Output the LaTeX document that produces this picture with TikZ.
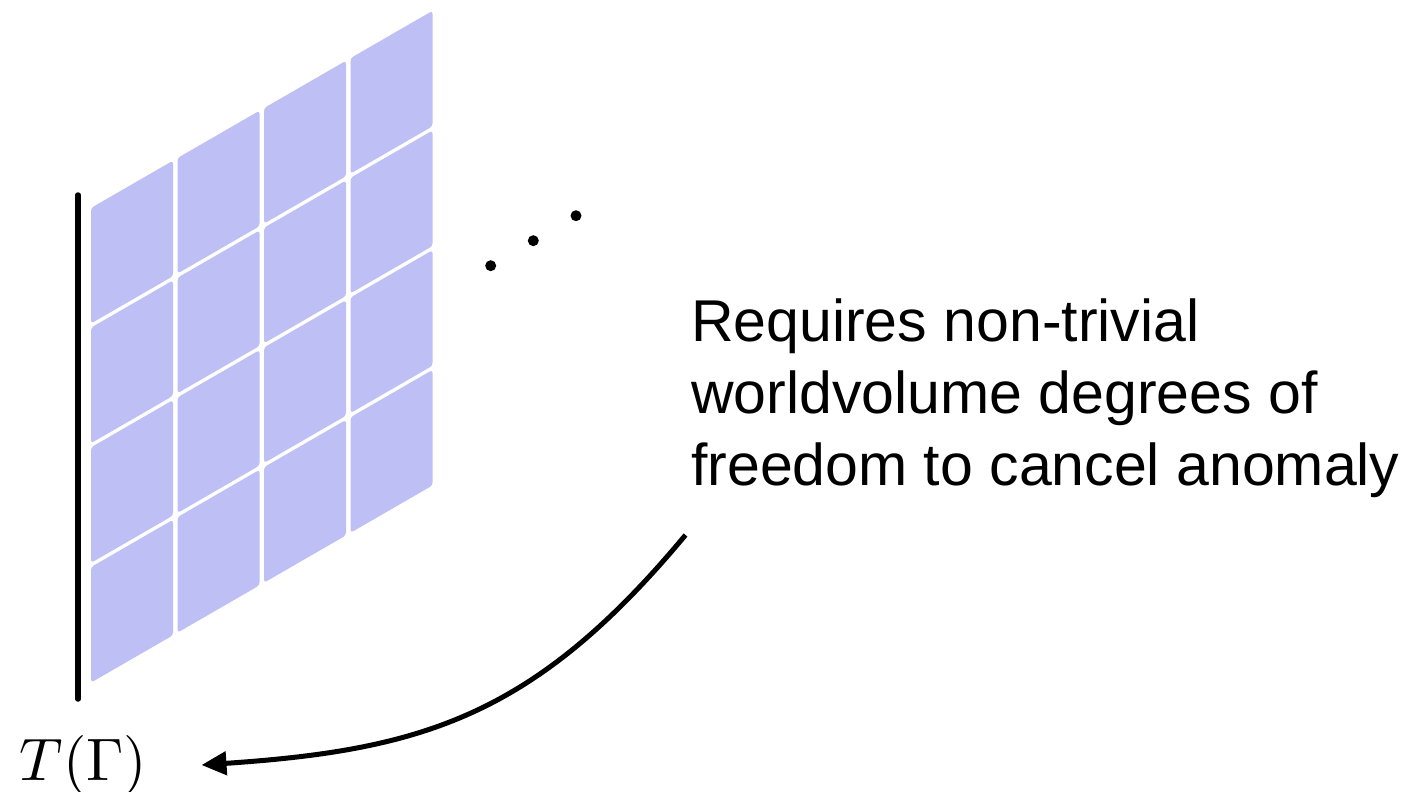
\documentclass[tikz,border=0pt]{standalone}
\usepackage{graphicx}
\usepackage{fontspec}
\newfontfamily\labelfont{Liberation Sans}
\usetikzlibrary{arrows.meta}
\definecolor{cellblue}{RGB}{190,191,244}
\tikzset{
  cell/.style={fill=cellblue, draw=none, rounded corners=3pt},
  labeltext/.style={anchor=base west, inner sep=0pt, font=\labelfont\fontsize{59}{72}\selectfont},
  dotnode/.style={circle, fill=black, draw=none, inner sep=0pt, minimum size=11pt},
  curvedarrow/.style={line width=5pt, -{Triangle[length=25pt,width=23pt]}},
  tline/.style={line width=5.5pt, line cap=round}
}
\begin{document}
\begin{tikzpicture}[x=1pt,y=-1pt]
\useasboundingbox (0,0) rectangle (1428,792);
% grid of cells
\foreach \i in {0,1,2,3}{
  \foreach \j in {0,1,2,3}{
    \pgfmathsetmacro{\xl}{91+86.5*\i}
    \pgfmathsetmacro{\xr}{\xl+82}
    \pgfmathsetmacro{\yt}{208+119.7*\j-0.5774*86.5*\i}
    \pgfmathsetmacro{\ytr}{\yt-0.5774*82}
    \path[cell] (\xl,\yt) -- (\xr,\ytr) -- (\xr,\ytr+115.5) -- (\xl,\yt+115.5) -- cycle;
  }
}
% vertical line
\coordinate (ltop) at (78,195);
\coordinate (lbot) at (78,699);
\draw[tline] (ltop) -- (lbot);
% dots
\node[dotnode] (d1) at (490.7,265.7) {};
\node[dotnode] (d2) at (533.3,240.7) {};
\node[dotnode] (d3) at (576,215.7) {};
% text
\node[labeltext] (l1) at (691,341.3) {Requires non-trivial};
\node[labeltext] (l2) at (691,413.3) {worldvolume degrees of};
\node[labeltext] (l3) at (691,485.3) {freedom to cancel anomaly};
% T(Gamma)
\node[anchor=base, inner sep=0pt] (tg) at (83.5,780.5) {\scalebox{6.0}{$T(\Gamma)$}};
% arrow
\coordinate (asrc) at (685.5,535);
\coordinate (atgt) at (201.5,765);
\draw[curvedarrow] (asrc) .. controls (535,716) and (423,750) .. (atgt);
\end{tikzpicture}
\end{document}
